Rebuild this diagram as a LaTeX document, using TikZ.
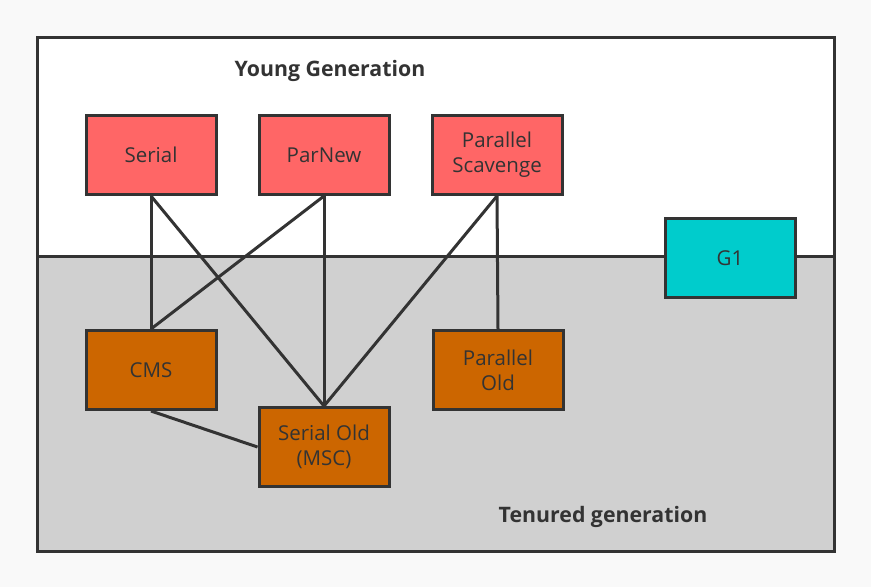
\documentclass[tikz,border=0pt]{standalone}
\usepackage{fontspec}
\setmainfont{Open Sans}
\definecolor{bgc}{HTML}{F9F9F9}
\definecolor{linec}{HTML}{333333}
\definecolor{redc}{HTML}{FF6666}
\definecolor{orc}{HTML}{CC6600}
\definecolor{cyc}{HTML}{00CCCC}
\definecolor{grayc}{HTML}{D0D0D0}
\tikzset{
  gc/.style={draw=linec, line width=3pt, minimum width=130pt, minimum height=79pt,
    inner sep=0pt, align=center, text=linec, font=\fontsize{20.5}{25}\selectfont},
  young/.style={gc, fill=redc},
  old/.style={gc, fill=orc},
  gone/.style={gc, fill=cyc},
  link/.style={draw=linec, line width=3pt},
  title/.style={text=linec, font=\fontsize{21.3}{25}\selectfont\bfseries}
}
\begin{document}
\begin{tikzpicture}[x=1pt,y=-1pt]
\useasboundingbox (0,0) rectangle (871,587);
\fill[bgc] (0,0) rectangle (871,587);
\fill[white] (37,37) rectangle (834,256);
\fill[grayc] (37,256) rectangle (834,551);
\draw[link] (37,256) -- (834,256);
\draw[link] (37,37) rectangle (834,551);
\node[title] (yg) at (330,71) {Young Generation};
\node[title] (tg) at (603,517) {Tenured generation};
\node[young] (serial) at (151,155) {Serial};
\node[young] (parnew) at (324,155) {ParNew};
\node[young] (ps) at (497,155) {Parallel\\Scavenge};
\node[gone] (g1) at (730,258) {G1};
\node[old] (cms) at (151,370) {CMS};
\node[old] (so) at (324,447) {Serial Old\\(MSC)};
\node[old] (po) at (498,370) {Parallel\\Old};
\draw[link] (serial.south) -- (cms.north);
\draw[link] (serial.south) -- (so.north);
\draw[link] (parnew.south) -- (cms.north);
\draw[link] (parnew.south) -- (so.north);
\draw[link] (ps.south) -- (so.north);
\draw[link] (ps.south) -- (po.north);
\draw[link] (cms.south) -- (so.west);
\end{tikzpicture}
\end{document}
